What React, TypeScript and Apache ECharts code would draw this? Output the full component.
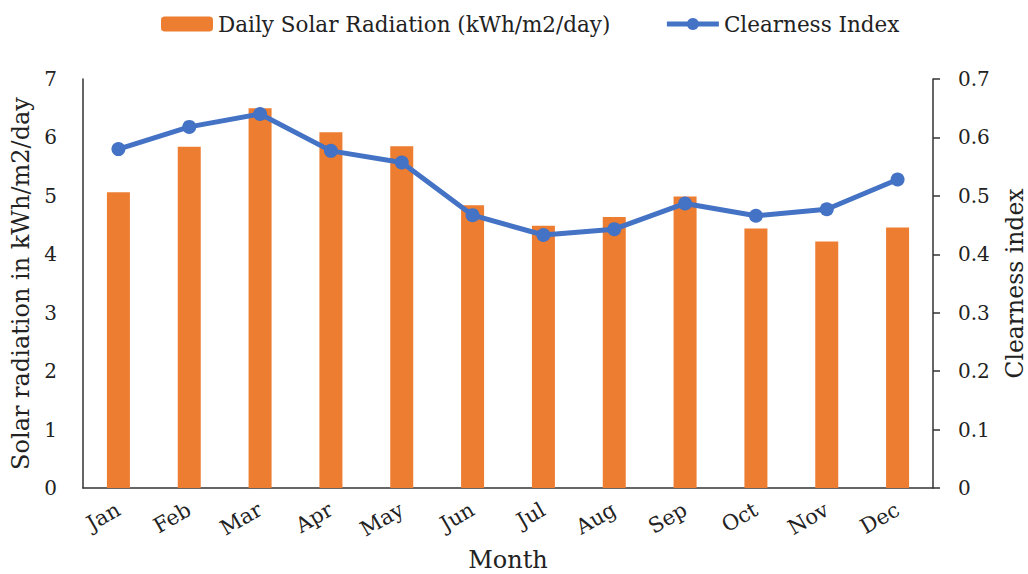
import React, { useEffect, useRef } from "react";
import * as echarts from "echarts";

const months = ["Jan", "Feb", "Mar", "Apr", "May", "Jun", "Jul", "Aug", "Sep", "Oct", "Nov", "Dec"];
const solarRadiation = [5.06, 5.84, 6.5, 6.09, 5.85, 4.84, 4.49, 4.64, 4.99, 4.44, 4.22, 4.46];
const clearnessIndex = [0.58, 0.618, 0.64, 0.577, 0.557, 0.467, 0.433, 0.443, 0.487, 0.466, 0.477, 0.528];

const FONT = "DejaVu Serif";
const TEXT = "#222";

export default function App() {
  const ref = useRef<HTMLDivElement>(null);
  useEffect(() => {
    const chart = echarts.init(ref.current!, undefined, { renderer: "svg" });
    chart.setOption({
      animation: false,
      textStyle: { fontFamily: FONT, color: TEXT },
      legend: {
        top: 8,
        left: 156,
        itemWidth: 52,
        itemHeight: 15,
        itemGap: 54,
        textStyle: { fontFamily: FONT, fontSize: 21.5, color: TEXT },
        data: [
          { name: "Daily Solar Radiation (kWh/m2/day)" },
          { name: "Clearness Index", lineStyle: { width: 5 } },
        ],
      },
      grid: { left: 83, right: 95, top: 79, bottom: 86, containLabel: false, outerBoundsMode: "none" },
      xAxis: {
        type: "category",
        data: months,
        name: "Month",
        nameLocation: "middle",
        nameGap: 60,
        nameTextStyle: { fontFamily: FONT, fontSize: 24, color: TEXT },
        axisLine: { lineStyle: { color: "#333", width: 1.5 } },
        axisTick: { show: false },
        axisLabel: { rotate: 30, fontFamily: FONT, fontSize: 21, color: TEXT, margin: 20 },
      },
      yAxis: [
        {
          type: "value",
          min: 0,
          max: 7,
          interval: 1,
          name: "Solar radiation in kWh/m2/day",
          nameLocation: "middle",
          nameGap: 44,
          nameTextStyle: { fontFamily: FONT, fontSize: 24, color: TEXT },
          axisLine: { show: true, lineStyle: { color: "#333", width: 1.5 } },
          axisTick: { show: false },
          splitLine: { show: false },
          axisLabel: { fontFamily: FONT, fontSize: 20, color: TEXT, margin: 26 },
        },
        {
          type: "value",
          min: 0,
          max: 0.7,
          interval: 0.1,
          name: "Clearness index",
          nameLocation: "middle",
          nameGap: 70,
          nameRotate: 90,
          nameTextStyle: { fontFamily: FONT, fontSize: 23.5, color: TEXT },
          axisLine: { show: true, lineStyle: { color: "#333", width: 1.5 } },
          axisTick: { show: true, length: 7, lineStyle: { color: "#333", width: 1.5 } },
          splitLine: { show: false },
          axisLabel: { fontFamily: FONT, fontSize: 20, color: TEXT, margin: 25 },
        },
      ],
      series: [
        {
          name: "Daily Solar Radiation (kWh/m2/day)",
          type: "bar",
          data: solarRadiation,
          barWidth: 23,
          itemStyle: { color: "#ED7D31" },
          yAxisIndex: 0,
        },
        {
          name: "Clearness Index",
          type: "line",
          data: clearnessIndex,
          yAxisIndex: 1,
          symbol: "circle",
          symbolSize: 14,
          lineStyle: { color: "#4472C4", width: 5 },
          itemStyle: { color: "#4472C4" },
        },
      ],
    });
    return () => chart.dispose();
  }, []);
  return <div ref={ref} style={{ position: "fixed", left: 0, top: 0, width: 1028, height: 574, background: "#fff" }} />;
}
